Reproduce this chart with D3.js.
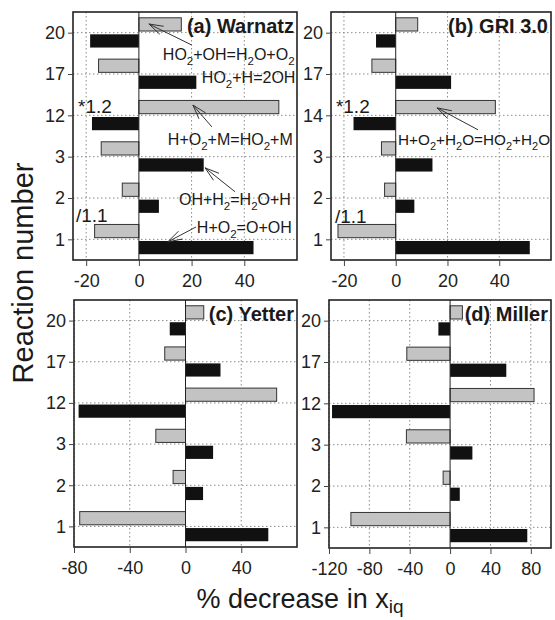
<!DOCTYPE html>
<html>
<head>
<meta charset="utf-8">
<script src="https://cdn.jsdelivr.net/npm/d3@7"></script>
<style>
  html, body { margin: 0; padding: 0; background: #fff; }
  svg { display: block; font-family: "Liberation Sans", Arial, sans-serif; }
</style>
</head>
<body>
<svg id="chart" width="555" height="620"></svg>
<script>
// Reaction numbers (bottom to top) for each mechanism
const reactionsWarnatz = ["1", "2", "3", "12", "17", "20"];
const reactionsGRI     = ["1", "2", "3", "14", "17", "20"];
const reactionsYetter  = ["1", "2", "3", "12", "17", "20"];
const reactionsMiller  = ["1", "2", "3", "12", "17", "20"];

// % decrease in x_iq — light (upper) and dark (lower) bar of each pair
const warnatzLight = [-16.8, -6.3, -14.3, 53.1, -15.3, 16.1];
const warnatzDark  = [43.5, 7.6, 24.6, -17.8, 21.8, -18.5];
const griLight     = [-22.3, -4.3, -5.5, 38.5, -9.2, 8.5];
const griDark      = [51.8, 7.2, 14.2, -16.3, 21.4, -7.6];
const yetterLight  = [-75.9, -8.9, -21.3, 65.4, -14.9, 13.1];
const yetterDark   = [59.4, 12.6, 19.8, -76.7, 25.1, -11.3];
const millerLight  = [-98.3, -6.9, -43.3, 83.2, -42.9, 12.2];
const millerDark   = [76.5, 9.6, 22.1, -117, 55.7, -11.6];

// Axis ticks
const ticksWarnatz = [-20, 0, 20, 40];
const ticksGRI     = [-20, 0, 20, 40];
const ticksYetter  = [-80, -40, 0, 40];
const ticksMiller  = [-120, -80, -40, 0, 40, 80];

const svg = d3.select("#chart");
const FONT = "'Liberation Sans', Arial, sans-serif";

const panels = [
  { title: "(a) Warnatz", cats: reactionsWarnatz, light: warnatzLight, dark: warnatzDark,
    domain: [-25, 60], ticks: ticksWarnatz, box: { l: 73, r: 297, t: 12, b: 260 },
    notes: [
      { text: "HO_2+OH=H_2O+O_2", x: 9.1, y: 4.34, tail: [20.1, 4.70], tip: [3.8, 5.21] },
      { text: "HO_2+H=2OH", x: 23.9, y: 3.78 },
      { text: "H+O_2+M=HO_2+M", x: 11.0, y: 2.28, tail: [27.7, 2.72], tip: [20.5, 3.25] },
      { text: "OH+H_2=H_2O+H", x: 15.2, y: 0.83, tail: [36.5, 1.15], tip: [25.1, 1.73] },
      { text: "H+O_2=O+OH", x: 22.0, y: 0.15, tail: [21.7, 0.30], tip: [11.0, -0.06] }
    ],
    factors: [{ text: "*1.2", x: -23.1, y: 3.06 }, { text: "/1.1", x: -23.9, y: 0.42 }] },
  { title: "(b) GRI 3.0", cats: reactionsGRI, light: griLight, dark: griDark,
    domain: [-25, 60], ticks: ticksGRI, box: { l: 331, r: 551, t: 12, b: 260 },
    notes: [
      { text: "H+O_2+H_2O=HO_2+H_2O", x: 0.9, y: 2.28, tail: [31.8, 2.65], tip: [16.0, 3.18], size: 15.3 }
    ],
    factors: [{ text: "*1.2", x: -23.1, y: 3.06 }, { text: "/1.1", x: -23.5, y: 0.40 }] },
  { title: "(c) Yetter", cats: reactionsYetter, light: yetterLight, dark: yetterDark,
    domain: [-80, 80], ticks: ticksYetter, box: { l: 74, r: 297, t: 300, b: 547 },
    notes: [], factors: [] },
  { title: "(d) Miller", cats: reactionsMiller, light: millerLight, dark: millerDark,
    domain: [-120, 100], ticks: ticksMiller, box: { l: 329, r: 551, t: 300, b: 548 },
    notes: [], factors: [] }
];

// Writes chemistry text: "_X" renders X as a subscript
function chemText(sel, str, size) {
  const parts = str.split(/(_\d)/).filter(s => s);
  let shift = 0;
  parts.forEach(p => {
    if (p[0] === "_") {
      sel.append("tspan").attr("font-size", size * 0.72).attr("dy", size * 0.3).text(p.slice(1));
      shift = -size * 0.3;
    } else {
      sel.append("tspan").attr("font-size", size).attr("dy", shift).text(p);
      shift = 0;
    }
  });
}

const hyphenFmt = d => String(d);

panels.forEach(p => {
  const g = svg.append("g");
  const x = d3.scaleLinear().domain(p.domain).range([p.box.l, p.box.r]);
  const y = d3.scaleLinear().domain([-0.5, p.cats.length - 0.5]).range([p.box.b, p.box.t]);
  const idx = d3.range(p.cats.length);

  // dotted grid
  const grid = g.append("g").attr("stroke", "#8a8a8a").attr("stroke-width", 1)
    .attr("stroke-dasharray", "1.5,2.5");
  grid.selectAll("line.v").data(p.ticks.filter(t => t !== 0)).join("line")
    .attr("x1", d => x(d)).attr("x2", d => x(d)).attr("y1", p.box.t).attr("y2", p.box.b);
  grid.selectAll("line.h").data(idx).join("line")
    .attr("x1", p.box.l).attr("x2", p.box.r).attr("y1", d => y(d)).attr("y2", d => y(d));

  // bars: light bar just above the reaction line, dark bar just below
  const inner = 0.04, outer = 0.36;
  g.selectAll("rect.light").data(idx).join("rect")
    .attr("x", i => Math.min(x(0), x(p.light[i])))
    .attr("width", i => Math.abs(x(p.light[i]) - x(0)))
    .attr("y", i => y(i + outer)).attr("height", i => y(i + inner) - y(i + outer))
    .attr("fill", "#c3c3c3").attr("stroke", "#333").attr("stroke-width", 1);
  g.selectAll("rect.dark").data(idx).join("rect")
    .attr("x", i => Math.min(x(0), x(p.dark[i])))
    .attr("width", i => Math.abs(x(p.dark[i]) - x(0)))
    .attr("y", i => y(i - inner)).attr("height", i => y(i - outer) - y(i - inner))
    .attr("fill", "#111");

  // zero line
  g.append("line").attr("x1", x(0)).attr("x2", x(0)).attr("y1", p.box.t).attr("y2", p.box.b)
    .attr("stroke", "#222").attr("stroke-width", 1);

  // frame
  g.append("rect").attr("x", p.box.l).attr("y", p.box.t)
    .attr("width", p.box.r - p.box.l).attr("height", p.box.b - p.box.t)
    .attr("fill", "none").attr("stroke", "#222").attr("stroke-width", 1.6);

  // axes
  const yAxis = d3.axisLeft(y).tickValues(idx).tickFormat(i => p.cats[i]).tickSize(5).tickPadding(3);
  const ya = g.append("g").attr("transform", `translate(${p.box.l},0)`).call(yAxis);
  const xAxis = d3.axisBottom(x).tickValues(p.ticks).tickFormat(hyphenFmt).tickSize(6).tickPadding(8);
  const xa = g.append("g").attr("transform", `translate(0,${p.box.b})`).call(xAxis);
  [ya, xa].forEach(a => {
    a.select(".domain").remove();
    a.selectAll("line").attr("stroke", "#444");
    a.selectAll("text").attr("font-family", FONT).attr("font-size", 18).attr("fill", "#222");
  });
  xa.selectAll("text").attr("dy", "0.72em");

  // panel title
  g.append("text").attr("x", p.box.r - 3).attr("y", p.box.t + 21)
    .attr("text-anchor", "end").attr("font-family", FONT).attr("font-weight", "bold")
    .attr("font-size", 20).attr("fill", "#1a1a1a").text(p.title);

  // multiplier labels
  p.factors.forEach(f => {
    g.append("text").attr("x", x(f.x)).attr("y", y(f.y)).attr("font-family", FONT)
      .attr("font-size", 19).attr("fill", "#1a1a1a").text(f.text);
  });

  // reaction annotations with arrows
  p.notes.forEach(n => {
    const size = n.size || 16;
    const t = g.append("text").attr("x", x(n.x)).attr("y", y(n.y))
      .attr("font-family", FONT).attr("font-size", size).attr("fill", "#1a1a1a");
    chemText(t, n.text, size);
    if (n.tip) {
      const x1 = x(n.tail[0]), y1 = y(n.tail[1]), x2 = x(n.tip[0]), y2 = y(n.tip[1]);
      const ang = Math.atan2(y1 - y2, x1 - x2), len = 15, spread = 0.3;
      const ar = g.append("g").attr("stroke", "#333").attr("stroke-width", 1).attr("fill", "none");
      ar.append("line").attr("x1", x1).attr("y1", y1).attr("x2", x2).attr("y2", y2);
      [-spread, spread].forEach(s => {
        ar.append("line").attr("x1", x2).attr("y1", y2)
          .attr("x2", x2 + len * Math.cos(ang + s)).attr("y2", y2 + len * Math.sin(ang + s));
      });
    }
  });
});

// shared axis titles
svg.append("text").attr("transform", "translate(33,273) rotate(-90)")
  .attr("text-anchor", "middle").attr("font-family", FONT).attr("font-size", 29)
  .attr("fill", "#1a1a1a").text("Reaction number");

const xt = svg.append("text").attr("x", 300).attr("y", 608).attr("text-anchor", "middle")
  .attr("font-family", FONT).attr("font-size", 27).attr("fill", "#1a1a1a");
xt.append("tspan").text("% decrease in x");
xt.append("tspan").attr("font-size", 19).attr("dy", 5).text("iq");
</script>
</body>
</html>
